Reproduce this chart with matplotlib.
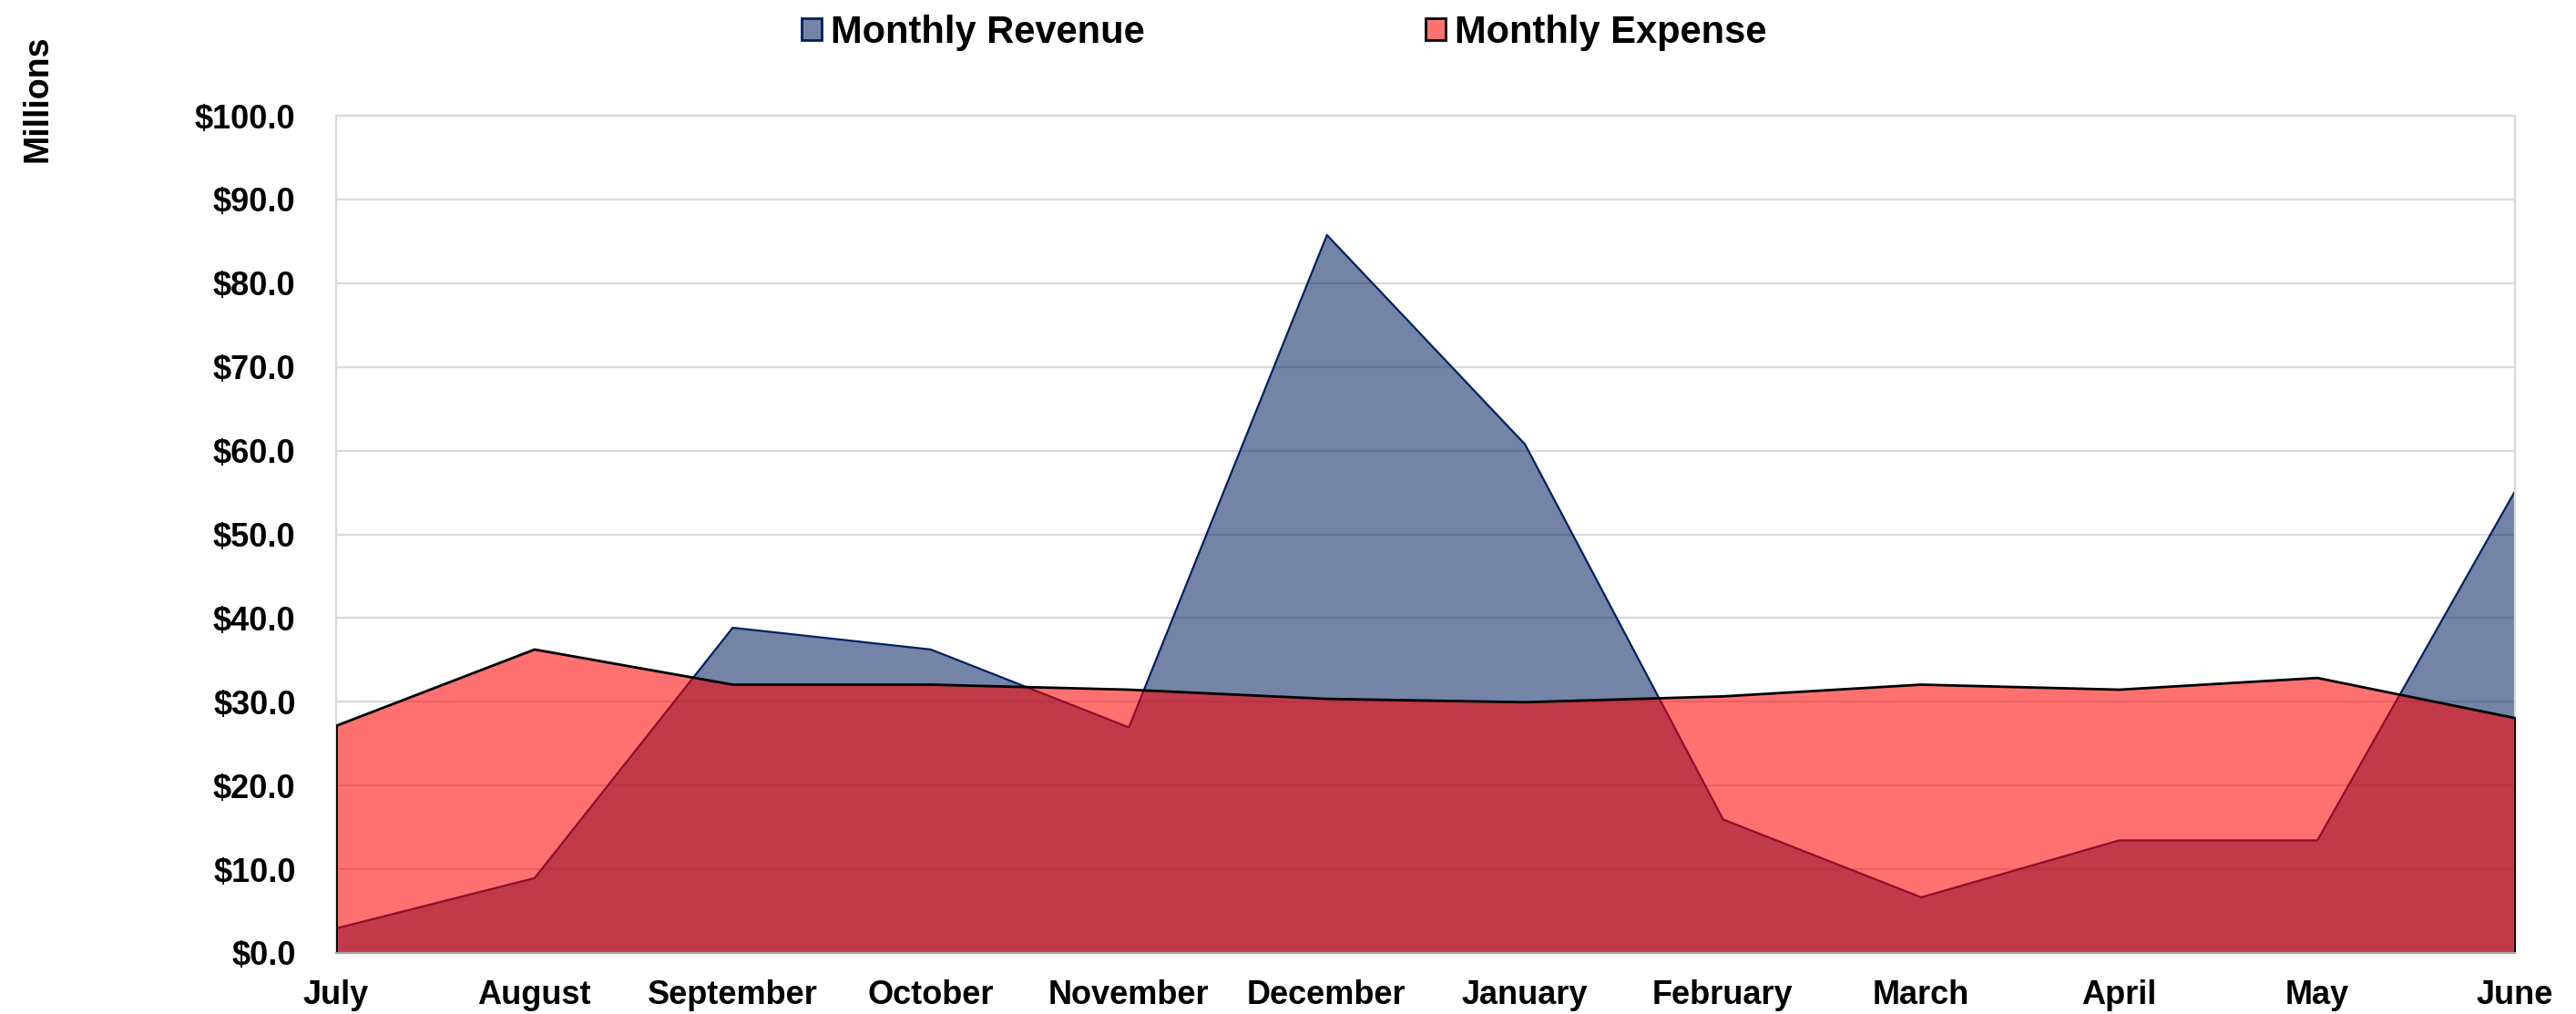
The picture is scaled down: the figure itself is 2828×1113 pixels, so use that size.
import numpy as np
import matplotlib
matplotlib.use("Agg")
from matplotlib import pyplot as plt
from matplotlib.patches import Patch
from matplotlib.ticker import FuncFormatter

months = ["July", "August", "September", "October", "November", "December",
          "January", "February", "March", "April", "May", "June"]
revenue = [3.0, 9.0, 38.9, 36.3, 27.0, 85.8, 60.8, 16.0, 6.7, 13.5, 13.5, 55.3]
expense = [27.2, 36.3, 32.1, 32.1, 31.5, 30.4, 30.0, 30.7, 32.1, 31.5, 32.9, 28.1]

plt.rcParams["font.family"] = ["Liberation Sans", "DejaVu Sans"]
plt.rcParams["font.weight"] = "bold"

rev_face = (0 / 255, 32 / 255, 96 / 255, 0.55)
rev_edge = "#002060"
exp_face = (1.0, 0.0, 0.0, 0.557)
exp_edge = "black"

fig = plt.figure(figsize=(28.28, 11.13), dpi=100)
ax = fig.add_axes([369 / 2828, 1 - 1046 / 1113, (2761 - 369) / 2828, (1046 - 127) / 1113])

xs = np.arange(len(months))
ax.fill_between(xs, 0, revenue, facecolor=rev_face, edgecolor=rev_edge, linewidth=1.6, zorder=2)
ax.fill_between(xs, 0, expense, facecolor=exp_face, edgecolor=exp_edge, linewidth=2.0, zorder=3)

ax.set_xlim(0, len(months) - 1)
ax.set_ylim(0, 100)
ax.set_yticks(np.arange(0, 101, 10))
ax.yaxis.set_major_formatter(FuncFormatter(lambda v, p: "${:.1f}".format(v)))
ax.set_xticks(xs)
ax.set_xticklabels(months)
ax.tick_params(axis="y", length=0, pad=32, labelsize=26)
ax.tick_params(axis="x", length=0, pad=21, labelsize=26)
for lab in ax.get_xticklabels() + ax.get_yticklabels():
    lab.set_fontweight("bold")

ax.set_axisbelow(True)
ax.grid(axis="y", color="#D9D9D9", linewidth=1.6)
for s in ["left", "right", "top"]:
    ax.spines[s].set_color("#D9D9D9")
    ax.spines[s].set_linewidth(1.6)
ax.spines["bottom"].set_color("#A6A6A6")
ax.spines["bottom"].set_linewidth(1.6)
ax.spines["bottom"].set_zorder(4)

fig.text(42 / 2828, 1 - 108 / 1113, "Millions", rotation=90, ha="center", va="center",
         fontsize=27, fontweight="bold")

handles = [Patch(facecolor=rev_face, edgecolor=rev_edge, linewidth=2),
           Patch(facecolor=exp_face, edgecolor=exp_edge, linewidth=2)]
fig.legend(handles, ["Monthly Revenue", "Monthly Expense"], loc="center left",
           bbox_to_anchor=(880 / 2828, 1 - 36 / 1113), ncol=2, frameon=False,
           prop={"size": 30, "weight": "bold"}, borderpad=0, borderaxespad=0,
           handlelength=0.53, handleheight=0.52, handletextpad=0.24, columnspacing=7.4)

fig.savefig("out.png", dpi=100)
